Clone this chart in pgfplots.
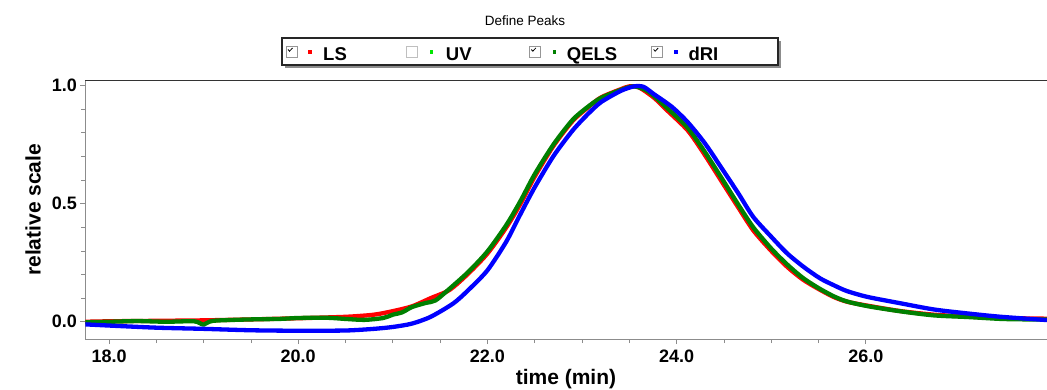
\documentclass[border=0pt]{standalone}
\usepackage{pgfplots}
\pgfplotsset{compat=1.18}
\usepackage{fontspec}
\setmainfont{Liberation Sans}
\definecolor{lsred}{RGB}{255,0,0}
\definecolor{uvgreen}{RGB}{0,230,0}
\definecolor{qelsgreen}{RGB}{0,128,0}
\definecolor{driblue}{RGB}{0,0,255}
\definecolor{axgray}{RGB}{140,140,140}
\definecolor{boxgray}{RGB}{150,150,150}

\pgfplotstableread{
x y
17.75 0.000
18.00 0.002
18.50 0.004
19.00 0.006
19.50 0.010
20.00 0.015
20.50 0.021
20.80 0.030
21.00 0.045
21.20 0.065
21.40 0.100
21.60 0.135
21.80 0.205
22.00 0.289
22.20 0.400
22.35 0.500
22.50 0.615
22.70 0.746
22.90 0.850
23.06 0.907
23.20 0.950
23.41 0.985
23.50 0.997
23.60 0.993
23.76 0.949
23.90 0.895
24.12 0.809
24.30 0.705
24.47 0.598
24.65 0.485
24.81 0.387
25.00 0.300
25.17 0.232
25.33 0.180
25.49 0.141
25.66 0.105
25.80 0.085
26.02 0.068
26.37 0.045
26.72 0.030
27.08 0.022
27.43 0.016
27.92 0.013
}\lsdata

\pgfplotstableread{
x y
17.75 -0.002
18.00 0.000
18.30 0.003
18.60 0.000
18.90 0.002
19.00 -0.012
19.10 0.004
19.50 0.010
19.80 0.012
20.00 0.016
20.30 0.017
20.50 0.012
20.70 0.008
20.90 0.016
21.00 0.030
21.10 0.040
21.20 0.062
21.35 0.080
21.45 0.090
21.60 0.140
21.80 0.212
22.00 0.298
22.20 0.410
22.35 0.512
22.50 0.625
22.70 0.752
22.90 0.855
23.06 0.910
23.20 0.948
23.41 0.982
23.55 0.997
23.70 0.975
23.90 0.905
24.12 0.820
24.30 0.718
24.47 0.612
24.65 0.497
24.81 0.400
25.00 0.310
25.17 0.242
25.33 0.187
25.49 0.145
25.66 0.108
25.80 0.086
26.02 0.066
26.37 0.044
26.72 0.027
27.08 0.020
27.43 0.012
27.70 0.010
27.92 0.009
}\qelsdata

\pgfplotstableread{
x y
17.75 -0.011
18.00 -0.016
18.50 -0.025
19.00 -0.030
19.50 -0.036
20.00 -0.038
20.50 -0.037
20.80 -0.030
21.00 -0.022
21.20 -0.008
21.40 0.021
21.64 0.078
21.80 0.135
22.00 0.218
22.20 0.340
22.35 0.457
22.50 0.570
22.70 0.703
22.90 0.810
23.06 0.879
23.20 0.930
23.41 0.978
23.55 0.997
23.65 0.995
23.76 0.964
23.95 0.910
24.12 0.844
24.30 0.755
24.47 0.654
24.65 0.545
24.81 0.444
25.00 0.360
25.17 0.289
25.35 0.230
25.52 0.183
25.66 0.155
25.80 0.130
26.02 0.105
26.37 0.078
26.72 0.052
27.08 0.035
27.43 0.021
27.92 0.007
}\dridata

\begin{document}
\begin{tikzpicture}[x=1bp,y=1bp]
\useasboundingbox (0,0) rectangle (1047,389);
\begin{axis}[
  at={(85bp,50bp)}, anchor=south west,
  scale only axis, width=962bp, height=258.3bp,
  xmin=17.746, xmax=27.915, ymin=-0.073, ymax=1.021,
  axis line style={draw=none},
  xtick={18,20,22,24,26}, ytick={0,0.5,1},
  minor x tick num=3, minor y tick num=4,
  xtick pos=bottom, ytick pos=left,
  tick align=outside,
  major tick length=5bp, minor tick length=4bp,
  every tick/.style={axgray, line width=0.8bp},
  /pgf/number format/.cd, fixed, fixed zerofill, precision=1, assume math mode=true,
  /pgfplots/.cd,
  ticklabel style={font=\fontsize{18bp}{20bp}\selectfont\bfseries, inner sep=0pt},
  xticklabel style={anchor=north, yshift=-6bp},
  yticklabel style={anchor=east, xshift=-3bp},
  xlabel={time (min)}, ylabel={relative scale},
  label style={font=\fontsize{21bp}{24bp}\selectfont\bfseries, inner sep=0pt},
  xlabel style={at={(axis description cs:0.5,0)}, anchor=base, yshift=-45bp},
  ylabel style={at={(axis description cs:-0.05405,0.5)}, anchor=center, rotate=0},
  clip=true,
]
\draw[axgray, line width=1bp] (rel axis cs:0,0) -- (rel axis cs:1,0);
\draw[axgray, line width=1bp] (rel axis cs:0,0) -- (rel axis cs:0,1);
\draw[black!80, line width=1.2bp] (rel axis cs:0,1) -- (rel axis cs:1,1);
\addplot[lsred, line width=4.3bp, line join=round, smooth, tension=0.45, no markers] table {\lsdata};
\addplot[qelsgreen, line width=4.3bp, line join=round, smooth, tension=0.45, no markers] table {\qelsdata};
\addplot[driblue, line width=4.3bp, line join=round, smooth, tension=0.45, no markers] table {\dridata};
\end{axis}
% legend
\node[font=\fontsize{13.5bp}{15bp}\selectfont, inner sep=0pt] at (525,368) {Define Peaks};
\fill[black!45] (285,321) rectangle (781,348);
\fill[white] (282,324) rectangle (778,351);
\draw[black!85, line width=1.2bp] (282,324) rectangle (778,351);
% LS
\draw[boxgray, line width=0.8bp] (286,332) rectangle (297,343);
\draw[black, line width=0.8bp] (288,339.5) -- (289.5,337.8) -- (292.5,341);
\fill[lsred] (308.3,334.8) rectangle (311.7,338.8);
\node[anchor=base west, inner sep=0pt, font=\fontsize{18.5bp}{20bp}\selectfont\bfseries] at (323,329) {LS};
% UV
\draw[black!25, line width=0.8bp] (406.7,332) rectangle (417.7,343);
\fill[uvgreen] (430,334.8) rectangle (433.4,338.8);
\node[anchor=base west, inner sep=0pt, font=\fontsize{18.5bp}{20bp}\selectfont\bfseries] at (445.7,329) {UV};
% QELS
\draw[boxgray, line width=0.8bp] (529.3,332) rectangle (540.3,343);
\draw[black, line width=0.8bp] (531.3,339.5) -- (532.8,337.8) -- (535.8,341);
\fill[qelsgreen] (552.7,334.8) rectangle (556.1,338.8);
\node[anchor=base west, inner sep=0pt, font=\fontsize{18.5bp}{20bp}\selectfont\bfseries] at (566.7,329) {QELS};
% dRI
\draw[boxgray, line width=0.8bp] (651.7,332) rectangle (662.7,343);
\draw[black, line width=0.8bp] (653.7,339.5) -- (655.2,337.8) -- (658.2,341);
\fill[driblue] (674.3,334.8) rectangle (677.7,338.8);
\node[anchor=base west, inner sep=0pt, font=\fontsize{18.5bp}{20bp}\selectfont\bfseries] at (688.3,329) {dRI};
\end{tikzpicture}
\end{document}
